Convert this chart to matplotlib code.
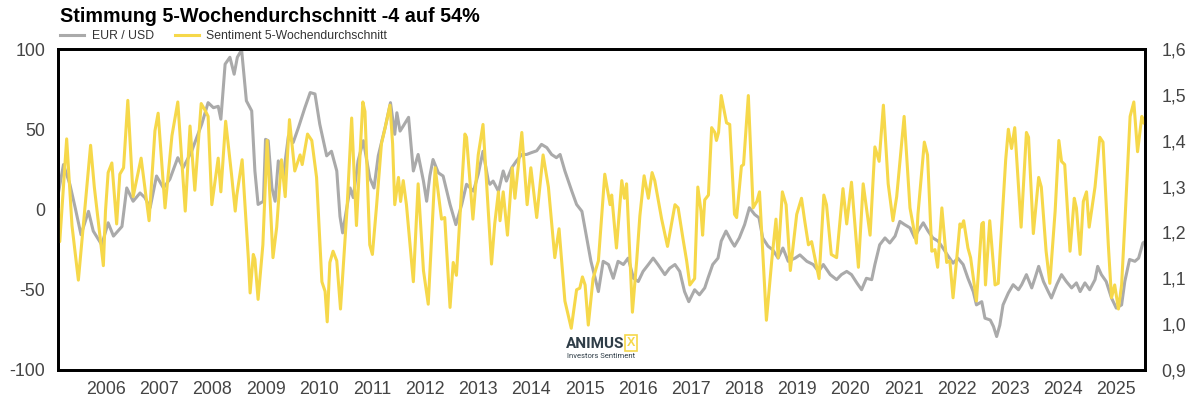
import matplotlib
matplotlib.use("Agg")
import matplotlib.pyplot as plt
from matplotlib.ticker import FuncFormatter, FixedLocator

# ---------------- data ----------------
sent_t = [2005.10, 2005.13, 2005.26, 2005.36, 2005.48, 2005.67, 2005.71, 2005.78, 2005.86, 2005.95,
          2005.99, 2006.04, 2006.11, 2006.20, 2006.26, 2006.33, 2006.41, 2006.51, 2006.66, 2006.81,
          2006.92, 2006.98, 2007.11, 2007.24, 2007.35, 2007.49, 2007.58, 2007.67, 2007.79, 2007.86,
          2007.92, 2007.99, 2008.11, 2008.16, 2008.25, 2008.36, 2008.43, 2008.46, 2008.56, 2008.68,
          2008.71, 2008.77, 2008.80, 2008.86, 2008.95, 2009.03, 2009.14, 2009.21, 2009.30, 2009.37,
          2009.45, 2009.55, 2009.65, 2009.69, 2009.79, 2009.87, 2009.96, 2010.06, 2010.12, 2010.16,
          2010.21, 2010.27, 2010.34, 2010.41, 2010.53, 2010.62, 2010.71, 2010.78, 2010.83, 2010.87,
          2010.96, 2011.01, 2011.09, 2011.18, 2011.25, 2011.34, 2011.39, 2011.43, 2011.50, 2011.54,
          2011.59, 2011.65, 2011.78, 2011.87, 2011.97, 2012.06, 2012.19, 2012.31, 2012.37, 2012.47,
          2012.53, 2012.59, 2012.75, 2012.78, 2012.90, 2013.00, 2013.09, 2013.25, 2013.31, 2013.38,
          2013.41, 2013.47, 2013.55, 2013.64, 2013.69, 2013.75, 2013.82, 2013.92, 2013.99, 2014.10,
          2014.22, 2014.32, 2014.44, 2014.52, 2014.63, 2014.75, 2014.85, 2014.91, 2014.96, 2015.01,
          2015.07, 2015.16, 2015.26, 2015.38, 2015.48, 2015.51, 2015.60, 2015.70, 2015.75, 2015.79,
          2015.90, 2015.98, 2016.04, 2016.12, 2016.20, 2016.27, 2016.32, 2016.45, 2016.56, 2016.70,
          2016.76, 2016.85, 2016.92, 2016.98, 2017.07, 2017.13, 2017.19, 2017.22, 2017.26, 2017.33,
          2017.39, 2017.45, 2017.48, 2017.52, 2017.57, 2017.67, 2017.73, 2017.82, 2017.86, 2017.95,
          2017.99, 2018.08, 2018.17, 2018.24, 2018.29, 2018.42, 2018.52, 2018.60, 2018.64, 2018.72,
          2018.79, 2018.87, 2018.99, 2019.08, 2019.14, 2019.21, 2019.27, 2019.33, 2019.41, 2019.50,
          2019.55, 2019.64, 2019.74, 2019.86, 2019.93, 2020.02, 2020.15, 2020.24, 2020.37, 2020.46,
          2020.54, 2020.62, 2020.71, 2020.80, 2020.87, 2021.01, 2021.12, 2021.24, 2021.27, 2021.39,
          2021.45, 2021.53, 2021.59, 2021.64, 2021.72, 2021.81, 2021.87, 2021.93, 2022.06, 2022.09,
          2022.13, 2022.21, 2022.26, 2022.37, 2022.47, 2022.50, 2022.54, 2022.62, 2022.72, 2022.78,
          2022.87, 2022.92, 2022.97, 2023.03, 2023.09, 2023.21, 2023.31, 2023.35, 2023.44, 2023.54,
          2023.59, 2023.68, 2023.75, 2023.85, 2023.92, 2023.97, 2024.03, 2024.13, 2024.21, 2024.25,
          2024.32, 2024.38, 2024.44, 2024.49, 2024.60, 2024.69, 2024.75, 2024.85, 2024.91, 2024.97,
          2025.04, 2025.10, 2025.16, 2025.26, 2025.33, 2025.40, 2025.48, 2025.52]
sent_v = [0, -20, 44, -10, -44, 25, 40, 14, -9, -35,
          -1, 23, 29, -9, 22, 26, 68, 8, 32, -7,
          49, 60, 1, 46, 67, -1, 52, 12, 66, 62,
          58, 3, 32, 11, 55, 22, -1, 9, 31, -32,
          -52, -28, -31, -56, -22, 43, -30, -11, 31, 8,
          56, 24, 34, 28, 47, 43, 20, -45, -51, -70,
          -33, -26, -32, -62, -1, 57, -10, 36, 67, 61,
          -22, -28, 3, 41, 51, 65, 41, 3, 20, 5,
          18, 3, -45, 16, -38, -59, 26, -6, -5, -61,
          -33, -41, 47, 45, -6, 34, 53, -34, -9, 11,
          -7, 11, -16, 26, 7, 26, 48, 3, 26, -5,
          34, 14, -30, -12, -57, -74, -50, -49, -42, -47,
          -72, -43, -32, 22, 3, 9, -24, 18, 7, 16,
          -64, -32, -4, 21, 7, 23, 18, -6, -23, 3,
          1, -18, -32, -47, -43, 14, -1, -16, 6, 9,
          51, 48, 43, 48, 71, 54, 53, -3, -5, 27,
          28, 71, 1, 5, 11, -69, -32, -6, -30, 11,
          3, -38, -3, 7, -7, -22, -20, -30, -43, 9,
          3, -28, -30, 13, -9, 17, -36, 16, -16, 39,
          30, 65, 16, -7, 8, 58, 1, -21, -3, 42,
          34, -26, -25, -36, 1, -33, -32, -55, -9, -11,
          -7, -24, -30, -57, -9, -8, -47, -7, -47, -46,
          3, 31, 50, 38, 51, -11, 48, 45, -15, 20,
          14, -26, -46, -1, 43, 30, 28, -26, 7, 1,
          -28, 5, 11, -11, 14, 45, 42, -22, -55, -47,
          -62, -47, -9, 58, 67, 36, 58, 54]

eur_t = [2005.10, 2005.20, 2005.32, 2005.42, 2005.53, 2005.67, 2005.76, 2005.92, 2006.04, 2006.14,
         2006.30, 2006.39, 2006.51, 2006.64, 2006.73, 2006.83, 2006.95, 2007.08, 2007.20, 2007.35,
         2007.45, 2007.61, 2007.80, 2007.92, 2008.02, 2008.11, 2008.16, 2008.24, 2008.33, 2008.41,
         2008.47, 2008.55, 2008.64, 2008.74, 2008.80, 2008.86, 2008.96, 2009.00, 2009.05, 2009.12,
         2009.18, 2009.24, 2009.33, 2009.43, 2009.52, 2009.62, 2009.74, 2009.84, 2009.93, 2010.02,
         2010.15, 2010.24, 2010.34, 2010.40, 2010.45, 2010.59, 2010.65, 2010.74, 2010.84, 2010.96,
         2011.04, 2011.12, 2011.25, 2011.35, 2011.43, 2011.47, 2011.53, 2011.59, 2011.69, 2011.78,
         2011.87, 2011.97, 2012.03, 2012.09, 2012.15, 2012.25, 2012.34, 2012.47, 2012.58, 2012.69,
         2012.78, 2012.91, 2013.00, 2013.09, 2013.19, 2013.22, 2013.28, 2013.38, 2013.47, 2013.53,
         2013.63, 2013.72, 2013.82, 2013.91, 2014.00, 2014.10, 2014.19, 2014.29, 2014.38, 2014.47,
         2014.54, 2014.63, 2014.76, 2014.85, 2014.95, 2015.04, 2015.12, 2015.20, 2015.26, 2015.35,
         2015.45, 2015.54, 2015.63, 2015.73, 2015.82, 2015.92, 2016.01, 2016.10, 2016.20, 2016.29,
         2016.38, 2016.51, 2016.60, 2016.70, 2016.79, 2016.88, 2016.96, 2017.07, 2017.16, 2017.26,
         2017.32, 2017.41, 2017.51, 2017.57, 2017.66, 2017.76, 2017.82, 2017.91, 2018.01, 2018.10,
         2018.20, 2018.28, 2018.35, 2018.45, 2018.54, 2018.64, 2018.73, 2018.83, 2018.96, 2019.05,
         2019.18, 2019.30, 2019.40, 2019.49, 2019.62, 2019.74, 2019.83, 2019.93, 2020.02, 2020.12,
         2020.21, 2020.30, 2020.40, 2020.46, 2020.55, 2020.65, 2020.74, 2020.84, 2020.93, 2021.02,
         2021.12, 2021.21, 2021.27, 2021.37, 2021.46, 2021.55, 2021.65, 2021.74, 2021.84, 2021.93,
         2022.02, 2022.12, 2022.21, 2022.31, 2022.37, 2022.47, 2022.53, 2022.63, 2022.69, 2022.75,
         2022.81, 2022.87, 2022.97, 2023.06, 2023.16, 2023.22, 2023.31, 2023.41, 2023.47, 2023.54,
         2023.63, 2023.72, 2023.78, 2023.88, 2023.97, 2024.06, 2024.16, 2024.25, 2024.32, 2024.41,
         2024.50, 2024.60, 2024.65, 2024.72, 2024.81, 2024.91, 2025.00, 2025.10, 2025.16, 2025.25,
         2025.35, 2025.42, 2025.50, 2025.54]
eur_v = [1.283, 1.348, 1.305, 1.254, 1.195, 1.246, 1.203, 1.173, 1.221, 1.192,
         1.213, 1.297, 1.268, 1.286, 1.276, 1.254, 1.323, 1.297, 1.316, 1.363,
         1.341, 1.377, 1.436, 1.483, 1.472, 1.475, 1.447, 1.567, 1.582, 1.545,
         1.582, 1.598, 1.487, 1.465, 1.334, 1.261, 1.268, 1.403, 1.400, 1.297,
         1.268, 1.356, 1.319, 1.410, 1.396, 1.429, 1.472, 1.505, 1.502, 1.436,
         1.367, 1.377, 1.334, 1.235, 1.199, 1.297, 1.276, 1.356, 1.400, 1.319,
         1.297, 1.367, 1.429, 1.483, 1.414, 1.461, 1.421, 1.432, 1.451, 1.334,
         1.370, 1.312, 1.268, 1.323, 1.359, 1.330, 1.323, 1.261, 1.217, 1.261,
         1.305, 1.290, 1.327, 1.377, 1.312, 1.305, 1.312, 1.290, 1.334, 1.312,
         1.341, 1.356, 1.370, 1.370, 1.374, 1.378, 1.392, 1.385, 1.370, 1.363,
         1.370, 1.334, 1.290, 1.261, 1.246, 1.188, 1.137, 1.100, 1.071, 1.137,
         1.130, 1.100, 1.137, 1.130, 1.144, 1.100, 1.093, 1.115, 1.130, 1.144,
         1.130, 1.108, 1.122, 1.130, 1.115, 1.071, 1.049, 1.075, 1.064, 1.079,
         1.100, 1.130, 1.144, 1.181, 1.203, 1.181, 1.170, 1.188, 1.217, 1.254,
         1.239, 1.232, 1.188, 1.170, 1.162, 1.144, 1.166, 1.137, 1.144, 1.151,
         1.137, 1.130, 1.115, 1.130, 1.108, 1.097, 1.108, 1.115, 1.108, 1.090,
         1.075, 1.100, 1.097, 1.130, 1.173, 1.188, 1.177, 1.192, 1.224, 1.217,
         1.210, 1.188, 1.203, 1.221, 1.203, 1.188, 1.181, 1.166, 1.148, 1.133,
         1.144, 1.130, 1.100, 1.071, 1.042, 1.049, 1.013, 1.009, 0.995, 0.973,
         0.998, 1.042, 1.068, 1.086, 1.075, 1.086, 1.108, 1.079, 1.100, 1.126,
         1.093, 1.071, 1.057, 1.086, 1.108, 1.093, 1.079, 1.090, 1.071, 1.090,
         1.075, 1.097, 1.126, 1.108, 1.093, 1.057, 1.035, 1.042, 1.093, 1.141,
         1.137, 1.144, 1.177, 1.180]

years = list(range(2006, 2026))
left_ticks = [-100, -50, 0, 50, 100]
right_ticks = [0.9, 1.0, 1.1, 1.2, 1.3, 1.4, 1.5, 1.6]

title = "Stimmung 5-Wochendurchschnitt -4 auf 54%"
label_eur = "EUR / USD"
label_sent = "Sentiment 5-Wochendurchschnitt"

# ---------------- styling ----------------
YELLOW = "#F6D84A"
GREY = "#AAAAAA"
TXT = "#444444"
plt.rcParams['font.family'] = ['Liberation Sans', 'DejaVu Sans']
plt.rcParams['axes.unicode_minus'] = False

W, H = 1195, 403
fig = plt.figure(figsize=(W / 100, H / 100), dpi=100)
L, R, T, B = 58, 1145, 49, 370
ax = fig.add_axes([L / W, 1 - B / H, (R - L) / W, (B - T) / H])
ax2 = ax.twinx()

l_eur, = ax2.plot(eur_t, eur_v, color=GREY, lw=2.2, label=label_eur, solid_joinstyle='round')
l_sent, = ax.plot(sent_t, sent_v, color=YELLOW, lw=2.2, label=label_sent, solid_joinstyle='round')

ax.set_zorder(ax2.get_zorder() + 1)
ax.patch.set_visible(False)

ax.set_xlim(2005.097, 2025.54)
ax.set_ylim(-100, 100)
ax2.set_ylim(0.9, 1.6)

ax.yaxis.set_major_locator(FixedLocator(left_ticks))
ax.xaxis.set_major_locator(FixedLocator(years))
ax.xaxis.set_major_formatter(FuncFormatter(lambda v, p: f"{int(round(v))}"))
ax2.yaxis.set_major_locator(FixedLocator(right_ticks))
ax2.yaxis.set_major_formatter(FuncFormatter(lambda v, p: f"{v:.1f}".replace('.', ',')))

ax.tick_params(axis='y', length=0, pad=9, labelsize=12.8, labelcolor=TXT)
ax.tick_params(axis='x', length=0, pad=8, labelsize=12.8, labelcolor=TXT)
ax2.tick_params(axis='y', length=0, pad=12, labelsize=12.8, labelcolor=TXT)

for a in (ax, ax2):
    for s in a.spines.values():
        s.set_linewidth(2.0)
        s.set_color("black")

fig.text(60 / W, 1 - 16 / H, title, fontsize=14.2, fontweight='bold', va='center', ha='left', color='black')

fig.legend(handles=[l_eur, l_sent], loc='center left', bbox_to_anchor=(60 / W, 1 - 36 / H),
           ncol=2, frameon=False, fontsize=8.8, handlelength=2.0, handletextpad=0.6,
           columnspacing=1.7, labelcolor='#333333', borderaxespad=0, borderpad=0)

# logo
fig.text(566 / W, 1 - 344 / H, "ANIMUS", fontsize=11, fontweight='bold', color='#2F3D47',
         va='center', ha='left', family=['Roboto', 'DejaVu Sans'])
fig.text(631 / W, 1 - 343 / H, "X", fontsize=9, color=YELLOW, va='center', ha='center', fontweight='bold',
         bbox=dict(boxstyle='square,pad=0.15', fc='none', ec=YELLOW, lw=1.2))
fig.text(567 / W, 1 - 356 / H, "Investors Sentiment", fontsize=5.5, color='#2F3D47',
         va='center', ha='left', family=['Roboto', 'DejaVu Sans'])

fig.savefig("out.png", dpi=100)
